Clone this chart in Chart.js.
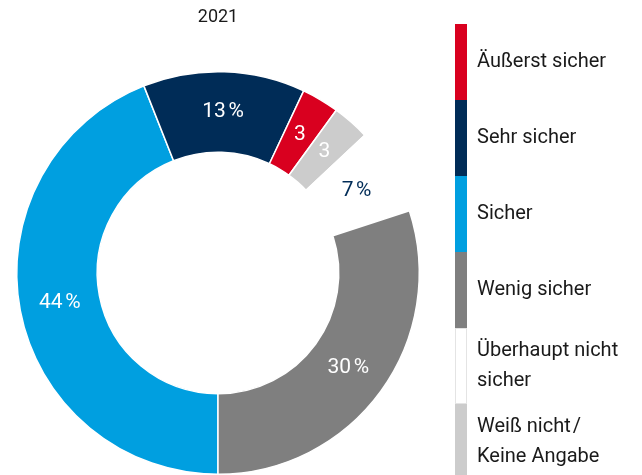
<!DOCTYPE html>
<html>
<head>
<meta charset="utf-8">
<script src="https://cdn.jsdelivr.net/npm/chart.js@4/dist/chart.umd.min.js"></script>
<style>
  html, body { margin: 0; padding: 0; background: #ffffff; overflow: hidden; }
  #wrap { width: 642px; height: 475px; }
</style>
</head>
<body>
<div id="wrap"><canvas id="c" width="642" height="475"></canvas></div>
<script>
// ---- Data (legend order) ----
const title = '2021';
const categories = [
  ['Äußerst sicher'],
  ['Sehr sicher'],
  ['Sicher'],
  ['Wenig sicher'],
  ['Überhaupt nicht', 'sicher'],
  ['Weiß nicht\u200A/', 'Keine Angabe']
];
const values = [3, 13, 44, 30, 7, 3];
// order of the segments around the ring, clockwise from 6 o'clock
const ringOrder = [2, 1, 0, 5, 4, 3];

// ---- Styles ----
const colors = ['#D9001F', '#002C57', '#009FE0', '#7F7F7F', '#FFFFFF', '#CCCCCC'];
const labelColors = ['#FFFFFF', '#FFFFFF', '#FFFFFF', '#FFFFFF', '#002C57', '#FFFFFF'];
const FONT = 'Roboto, "Noto Sans", sans-serif';
const TEXT = '#1a1a1a';

function fmt(v) { return v < 5 ? String(v) : v + '\u202F%'; }

const ringLabels = ringOrder.map(i => categories[i].join(' '));
const ringValues = ringOrder.map(i => values[i]);
const ringColors = ringOrder.map(i => colors[i]);
const ringTextColors = ringOrder.map(i => labelColors[i]);

const overlay = {
  id: 'overlay',
  afterDatasetsDraw(chart) {
    const ctx = chart.ctx;
    const meta = chart.getDatasetMeta(0);
    ctx.save();
    ctx.textAlign = 'center';
    ctx.textBaseline = 'middle';
    ctx.font = '21px ' + FONT;
    meta.data.forEach((arc, i) => {
      const p = arc.tooltipPosition();
      ctx.fillStyle = ringTextColors[i];
      ctx.fillText(fmt(ringValues[i]), p.x, p.y);
    });
    ctx.restore();
  },
  afterDraw(chart) {
    const ctx = chart.ctx;
    const area = chart.chartArea;
    const cx = (area.left + area.right) / 2;
    ctx.save();
    // title
    ctx.fillStyle = TEXT;
    ctx.textAlign = 'center';
    ctx.textBaseline = 'middle';
    ctx.font = '18px ' + FONT;
    ctx.fillText(title, cx, 17);
    // legend: stacked colour bar with labels
    const x0 = 455, y0 = 24, bw = 12, bh = 76, lh = 30;
    ctx.textAlign = 'left';
    ctx.font = '20px ' + FONT;
    categories.forEach((lines, i) => {
      const y = y0 + i * bh;
      ctx.fillStyle = colors[i];
      const h = (i === categories.length - 1) ? chart.height - y : bh;
      ctx.fillRect(x0, y, bw, h);
      if (colors[i].toUpperCase() === '#FFFFFF') {
        ctx.strokeStyle = '#E4E4E4';
        ctx.lineWidth = 1;
        ctx.strokeRect(x0 + 0.5, y + 0.5, bw - 1, h - 1);
      }
      ctx.fillStyle = TEXT;
      const cy = y + bh / 2;
      const start = cy - (lines.length - 1) * lh / 2;
      lines.forEach((t, k) => ctx.fillText(t, 477, start + k * lh));
    });
    ctx.restore();
  }
};

new Chart(document.getElementById('c'), {
  type: 'doughnut',
  data: {
    labels: ringLabels,
    datasets: [{
      data: ringValues,
      backgroundColor: ringColors,
      borderColor: '#FFFFFF',
      borderWidth: 1.5,
      hoverOffset: 0
    }]
  },
  options: {
    responsive: false,
    animation: false,
    rotation: 180,
    cutout: '60%',
    layout: { padding: { top: 71, left: 16, right: 222, bottom: 0 } },
    plugins: {
      legend: { display: false },
      tooltip: { enabled: false },
      title: { display: false }
    }
  },
  plugins: [overlay]
});
</script>
</body>
</html>
